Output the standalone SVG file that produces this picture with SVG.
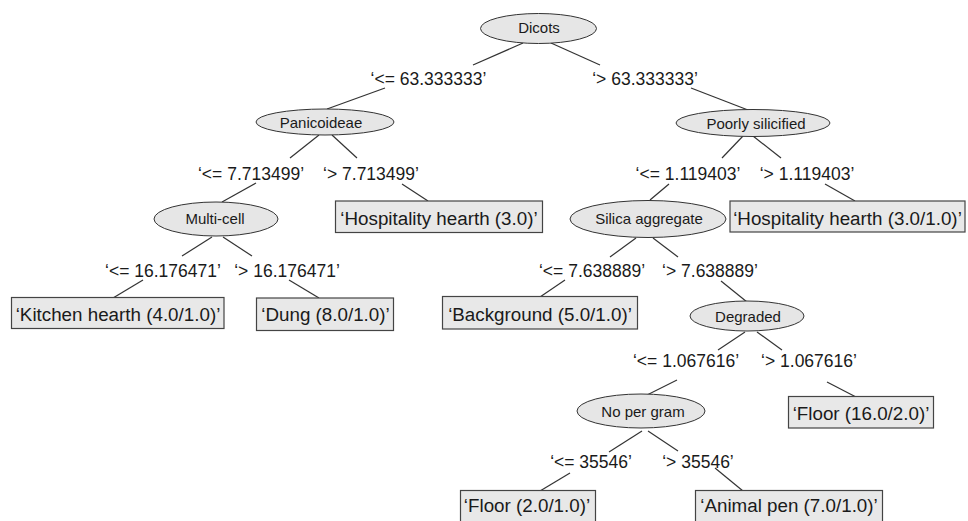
<svg xmlns="http://www.w3.org/2000/svg" width="968" height="521" viewBox="0 0 968 521">
<style>
.bg{fill:#ffffff}
.node ellipse{fill:#e6e6e6;stroke:#333333;stroke-width:1}
.leaf rect{fill:#e8e8e8;stroke:#444444;stroke-width:1.2}
.nt{font-family:"Liberation Sans",Arial,sans-serif;font-size:15px;fill:#1a1a1a;text-anchor:middle}
.lt{font-family:"Liberation Sans",Arial,sans-serif;font-size:18.8px;fill:#1a1a1a;text-anchor:middle}
.el{font-family:"Liberation Sans",Arial,sans-serif;font-size:17.5px;fill:#1a1a1a;text-anchor:middle}
.edges line{stroke:#333333;stroke-width:1.2}
</style>
<rect class="bg" x="0" y="0" width="968" height="521"/>
<g id="connectors" class="edges">
<line x1="523" y1="43" x2="473" y2="65"/>
<line x1="551" y1="43" x2="600" y2="65"/>
<line x1="385" y1="88" x2="327" y2="109"/>
<line x1="691" y1="88" x2="748" y2="110"/>
<line x1="319" y1="135" x2="290" y2="158"/>
<line x1="332" y1="135" x2="357" y2="158"/>
<line x1="743" y1="136" x2="722" y2="158"/>
<line x1="753" y1="136" x2="781" y2="158"/>
<line x1="256" y1="183" x2="222" y2="202"/>
<line x1="402" y1="184" x2="428" y2="201"/>
<line x1="669" y1="184" x2="650" y2="200"/>
<line x1="825" y1="184" x2="855" y2="201"/>
<line x1="212" y1="237" x2="182" y2="256"/>
<line x1="223" y1="237" x2="252" y2="256"/>
<line x1="636" y1="238" x2="610" y2="257"/>
<line x1="653" y1="238" x2="678" y2="257"/>
<line x1="143" y1="280" x2="113" y2="298"/>
<line x1="289" y1="280" x2="319" y2="298"/>
<line x1="565" y1="280" x2="540" y2="297"/>
<line x1="721" y1="281" x2="747" y2="302"/>
<line x1="745" y1="332" x2="718" y2="350"/>
<line x1="757" y1="332" x2="782" y2="350"/>
<line x1="677" y1="380" x2="647" y2="395"/>
<line x1="827" y1="382" x2="856" y2="397"/>
<line x1="642" y1="431" x2="609" y2="452"/>
<line x1="648" y1="431" x2="678" y2="451"/>
<line x1="570" y1="473" x2="540" y2="491"/>
<line x1="715" y1="468" x2="743" y2="491"/>
</g>
<g id="edge-labels">
<text class="el" x="428.5" y="85">‘&lt;= 63.333333’</text>
<text class="el" x="645" y="85">‘&gt; 63.333333’</text>
<text class="el" x="251" y="180">‘&lt;= 7.713499’</text>
<text class="el" x="371" y="180">‘&gt; 7.713499’</text>
<text class="el" x="688" y="180">‘&lt;= 1.119403’</text>
<text class="el" x="807" y="180">‘&gt; 1.119403’</text>
<text class="el" x="163" y="277">‘&lt;= 16.176471’</text>
<text class="el" x="287" y="277">‘&gt; 16.176471’</text>
<text class="el" x="592" y="277">‘&lt;= 7.638889’</text>
<text class="el" x="710" y="277">‘&gt; 7.638889’</text>
<text class="el" x="686" y="367">‘&lt;= 1.067616’</text>
<text class="el" x="809" y="367">‘&gt; 1.067616’</text>
<text class="el" x="591" y="468">‘&lt;= 35546’</text>
<text class="el" x="698" y="468">‘&gt; 35546’</text>
</g>
<g id="n-dicots" class="node"><ellipse cx="538.5" cy="28.5" rx="58" ry="15"/><text class="nt" x="539" y="33">Dicots</text></g>
<g id="n-panicoideae" class="node"><ellipse cx="325" cy="122" rx="69" ry="13"/><text class="nt" x="321" y="127.5">Panicoideae</text></g>
<g id="n-poorly" class="node"><ellipse cx="753" cy="123" rx="77" ry="13.5"/><text class="nt" x="756" y="128.5">Poorly silicified</text></g>
<g id="n-multicell" class="node"><ellipse cx="216" cy="219" rx="62" ry="17"/><text class="nt" x="215" y="224">Multi-cell</text></g>
<g id="n-silica" class="node"><ellipse cx="648" cy="219" rx="78" ry="18.5"/><text class="nt" x="649" y="224">Silica aggregate</text></g>
<g id="n-degraded" class="node"><ellipse cx="747" cy="316" rx="57" ry="15"/><text class="nt" x="748" y="322">Degraded</text></g>
<g id="n-nopergram" class="node"><ellipse cx="641" cy="411" rx="64" ry="17"/><text class="nt" x="643" y="417">No per gram</text></g>
<g id="l-hosp1" class="leaf"><rect x="335.5" y="201" width="207" height="31.5"/><text class="lt" x="439" y="225">‘Hospitality hearth (3.0)’</text></g>
<g id="l-hosp2" class="leaf"><rect x="730" y="201" width="235" height="31"/><text class="lt" x="847.5" y="225">‘Hospitality hearth (3.0/1.0)’</text></g>
<g id="l-kitchen" class="leaf"><rect x="11.5" y="297.5" width="212.5" height="31"/><text class="lt" x="118" y="320.5">‘Kitchen hearth (4.0/1.0)’</text></g>
<g id="l-dung" class="leaf"><rect x="256.5" y="298" width="137" height="32.5"/><text class="lt" x="325.5" y="321">‘Dung (8.0/1.0)’</text></g>
<g id="l-background" class="leaf"><rect x="442.5" y="296.5" width="195" height="32.5"/><text class="lt" x="540" y="320.5">‘Background (5.0/1.0)’</text></g>
<g id="l-floor16" class="leaf"><rect x="788.5" y="396.5" width="145" height="31.5"/><text class="lt" x="861" y="420">‘Floor (16.0/2.0)’</text></g>
<g id="l-floor2" class="leaf"><rect x="460.5" y="490.5" width="135" height="33"/><text class="lt" x="527" y="512">‘Floor (2.0/1.0)’</text></g>
<g id="l-animal" class="leaf"><rect x="695.5" y="490.5" width="187" height="33"/><text class="lt" x="789" y="512">‘Animal pen (7.0/1.0)’</text></g>
</svg>
